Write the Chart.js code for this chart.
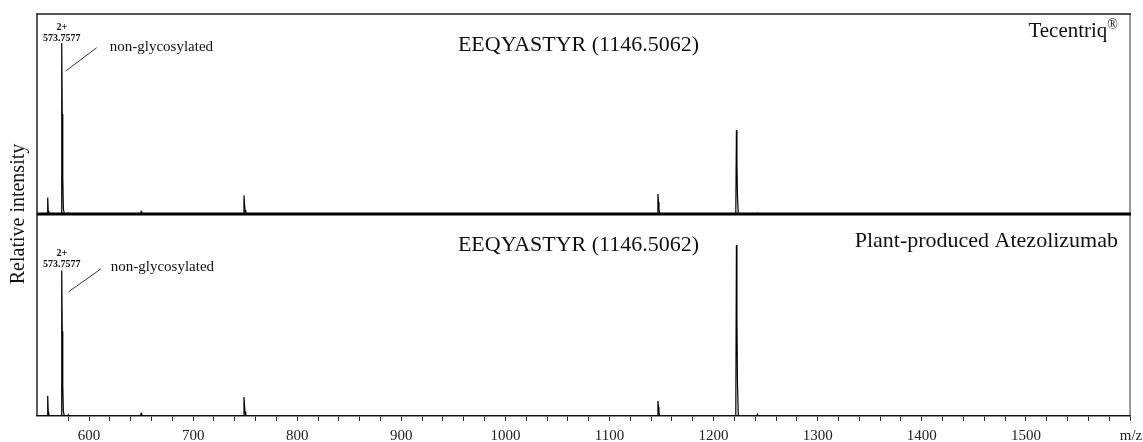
<!DOCTYPE html>
<html>
<head>
<meta charset="utf-8">
<script src="https://cdn.jsdelivr.net/npm/chart.js@4.4.1/dist/chart.umd.min.js"></script>
<style>
  html, body { margin: 0; padding: 0; background: #fff; }
  #wrap { position: relative; width: 1143px; height: 442px; }
  canvas { position: absolute; left: 0; top: 0; }
</style>
</head>
<body>
<div id="wrap">
  <canvas id="bottom" width="1143" height="442"></canvas>
  <canvas id="top" width="1143" height="442"></canvas>
</div>
<script>
// ---- data (m/z profile points, relative intensity in % of panel height) ----
const mz = [550, 559.8, 560.3, 560.8, 561.4, 573.2, 573.76, 574.26, 574.76, 575.3, 576.2,
  579.5, 580, 580.5, 649.3, 650, 650.7, 748.3, 748.85, 749.35, 749.85, 750.6,
  1145.9, 1146.5, 1147.0, 1147.5, 1148.3, 1221.3, 1221.9, 1222.4, 1222.9, 1223.7,
  1241.5, 1242, 1242.5, 1600];
const tecentriqIntensity = [0, 0, 8.2, 1.5, 0, 0, 85.5, 50, 18, 3, 0,
  0, 0.5, 0, 0, 1.2, 0, 0, 9.3, 5, 2, 0,
  0, 10, 6, 2.5, 0, 0, 42, 25, 9, 0,
  0, 0.4, 0, 0];
const plantIntensity = [0, 0, 10, 1.8, 0, 0, 72, 42, 15, 2.5, 0,
  0, 0.6, 0, 0, 1.2, 0, 0, 9.4, 5, 2, 0,
  0, 7.4, 4.5, 1.8, 0, 0, 84.7, 48, 17, 0,
  0, 0.8, 0, 0];
const xMin = 550, xMax = 1600;
const majorTicks = [600, 700, 800, 900, 1000, 1100, 1200, 1300, 1400, 1500];
const axisUnit = 'm/z';
const panelNames = ['Tecentriq', 'Plant-produced Atezolizumab'];
const peptide = 'EEQYASTYR (1146.5062)';
const peakCharge = '2+';
const peakMz = 573.7577;
const peakNote = 'non-glycosylated';
const yTitle = 'Relative intensity';

const SERIF = '"Liberation Serif", "Times New Roman", Times, serif';

function toPoints(xs, ys) { return xs.map((x, i) => ({ x: x, y: ys[i] })); }

function annotPlugin(panel) {
  return {
    id: 'annot' + panel,
    afterDatasetsDraw(chart) {
      const ctx = chart.ctx, ca = chart.chartArea, xs = chart.scales.x;
      const t = ca.top;
      const px = xs.getPixelForValue(peakMz);
      const o = panel === 0
        ? { title: 31, name: 23, charge: 13, mzl: 24, note: 33, l1: 57, l2: 33.7, lx1: 4, lx2: 35, notex: 48 }
        : { title: 31, name: 33, charge: 39, mzl: 50, note: 52.7, l1: 77.7, l2: 55, lx1: 7, lx2: 39, notex: 49 };
      ctx.save();
      // frame
      ctx.lineCap = 'butt';
      if (panel === 0) {
        ctx.strokeStyle = '#555'; ctx.lineWidth = 2;
        ctx.beginPath(); ctx.moveTo(ca.left - 1, ca.top); ctx.lineTo(ca.right + 1, ca.top); ctx.stroke();
        ctx.strokeStyle = '#000'; ctx.lineWidth = 3;
        ctx.beginPath(); ctx.moveTo(ca.left, ca.bottom); ctx.lineTo(ca.right + 1, ca.bottom); ctx.stroke();
      }
      ctx.strokeStyle = '#222'; ctx.lineWidth = 1.5;
      ctx.beginPath(); ctx.moveTo(ca.left, ca.top); ctx.lineTo(ca.left, ca.bottom); ctx.stroke();
      ctx.strokeStyle = '#333'; ctx.lineWidth = 1;
      ctx.beginPath(); ctx.moveTo(ca.right, ca.top); ctx.lineTo(ca.right, ca.bottom); ctx.stroke();

      ctx.fillStyle = '#111';
      ctx.textBaseline = 'middle';
      // peptide title
      ctx.font = '22px ' + SERIF;
      ctx.textAlign = 'center';
      ctx.fillText(peptide, (ca.left + ca.right) / 2 - 5, t + o.title);
      // panel name
      ctx.textAlign = 'right';
      ctx.textBaseline = 'alphabetic';
      if (panel === 0) {
        ctx.font = '14px ' + SERIF;
        const rw = ctx.measureText('®').width;
        ctx.fillText('®', ca.right - 12, t + o.name - 8);
        ctx.font = '21px ' + SERIF;
        ctx.fillText(panelNames[0], ca.right - 12 - rw, t + o.name);
      } else {
        ctx.font = '22px ' + SERIF;
        ctx.fillText(panelNames[1], ca.right - 12, t + o.name);
      }
      // peak labels
      ctx.textBaseline = 'middle';
      ctx.textAlign = 'center';
      ctx.font = 'bold 10px ' + SERIF;
      ctx.fillText(peakCharge, px, t + o.charge);
      ctx.fillText(peakMz.toFixed(4), px, t + o.mzl);
      ctx.textAlign = 'left';
      ctx.font = '15px ' + SERIF;
      ctx.fillText(peakNote, px + o.notex, t + o.note);
      // leader line
      ctx.strokeStyle = '#333'; ctx.lineWidth = 1;
      ctx.beginPath(); ctx.moveTo(px + o.lx1, t + o.l1); ctx.lineTo(px + o.lx2, t + o.l2); ctx.stroke();
      if (panel === 1) {
        // axis unit at the end of the x axis
        ctx.textAlign = 'center';
        ctx.textBaseline = 'middle';
        ctx.font = '15px ' + SERIF;
        ctx.fillStyle = '#222';
        ctx.fillText(axisUnit, xs.getPixelForValue(xMax) + 1, ca.bottom + 20);
        // y-axis title
        ctx.save();
        ctx.translate(19, 214);
        ctx.rotate(-Math.PI / 2);
        ctx.textAlign = 'center';
        ctx.textBaseline = 'middle';
        ctx.font = '20px ' + SERIF;
        ctx.fillStyle = '#111';
        ctx.fillText(yTitle, 0, 0);
        ctx.restore();
      }
      ctx.restore();
    }
  };
}

function makeChart(id, values, panel) {
  const isBottom = panel === 1;
  return new Chart(document.getElementById(id), {
    type: 'line',
    data: {
      datasets: [{
        data: toPoints(mz, values),
        borderColor: '#000',
        borderWidth: 1.2,
        pointRadius: 0,
        tension: 0,
        fill: false
      }]
    },
    options: {
      responsive: false,
      animation: false,
      devicePixelRatio: 1,
      layout: {
        padding: isBottom
          ? { left: 37, right: 13, top: 214, bottom: -9 }
          : { left: 37, right: 13, top: 14, bottom: 228 }
      },
      plugins: { legend: { display: false }, tooltip: { enabled: false } },
      scales: {
        x: {
          type: 'linear',
          min: xMin, max: xMax,
          display: isBottom,
          afterBuildTicks: s => { s.ticks = s.ticks.filter(tk => tk.value % 20 === 0); },
          ticks: {
            stepSize: 20,
            autoSkip: false,
            maxRotation: 0,
            padding: 9,
            color: '#222',
            font: { family: SERIF, size: 15, lineHeight: 0.8 },
            callback: v => majorTicks.includes(v) ? String(v) : ''
          },
          grid: { drawOnChartArea: false, tickLength: 5, color: '#222', lineWidth: 1 },
          border: { display: true, color: '#222', width: 1.5 }
        },
        y: { display: false, min: 0, max: 100 }
      }
    },
    plugins: [annotPlugin(panel)]
  });
}

makeChart('top', tecentriqIntensity, 0);
makeChart('bottom', plantIntensity, 1);
</script>
</body>
</html>
